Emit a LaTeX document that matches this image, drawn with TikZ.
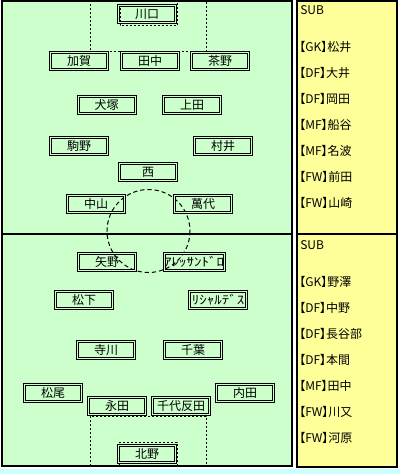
\documentclass[tikz,border=0pt]{standalone}
\usepackage{graphicx}
\usepackage{fontspec}
\setmainfont{Noto Sans CJK JP}
\newfontfamily\benchfont[RawFeature=+palt]{Noto Sans CJK JP}
\definecolor{pitchGreen}{RGB}{204,255,204}
\definecolor{benchYellow}{RGB}{255,255,153}
\definecolor{marginCyan}{RGB}{204,255,255}
\newcommand{\wideKana}[1]{\scalebox{1.25}[1]{#1}}

\begin{document}
\begin{tikzpicture}[x=0.75pt,y=-0.75pt,font=\fontsize{9pt}{10pt}\selectfont,
    player/.style={draw=black,double=pitchGreen,double distance=0.75pt,
                   line width=0.75pt,minimum width=42.75pt,minimum height=12.75pt,
                   inner sep=0pt},
    benchline/.style={anchor=west,inner sep=0pt,font=\fontsize{9pt}{10pt}\benchfont},
    frame/.style={draw=black,line width=1.5pt},
    dotline/.style={line width=0.75pt,dash pattern=on 1.5pt off 1.5pt},
    circline/.style={line width=0.75pt,dash pattern=on 3.2pt off 2.2pt}]

    \useasboundingbox (0,0) rectangle (400,474);
    \fill[white] (0,0) rectangle (400,474);
    \fill[marginCyan] (0,469) rectangle (400,474);

    % pitch
    \filldraw[frame,fill=pitchGreen] (2,1) rectangle (292,466);
    \draw[frame] (2,234) -- (292,234);
    \draw[dotline] (90,0) -- (90,52) -- (206,52) -- (206,0);
    \draw[dotline] (120,0) -- (120,26) -- (177,26) -- (177,0);
    \draw[dotline] (90,466) -- (90,416) -- (206,416) -- (206,466);
    \draw[dotline] (119,466) -- (119,442) -- (177,442) -- (177,466);
    \coordinate (kickoff) at (148.5,231);
    \draw[circline] (kickoff) circle[radius=41.5];

    % bench
    \filldraw[frame,fill=benchYellow] (297,1) rectangle (397,467);
    \draw[frame] (297,234) -- (397,234);

    % upper team
    \node[player] (kawaguchi) at (147,14)  {川口};
    \node[player] (kaga)      at (79,61)   {加賀};
    \node[player] (tanaka)    at (150,61)  {田中};
    \node[player] (chano)     at (220,61)  {茶野};
    \node[player] (inuzuka)   at (106.5,105) {犬塚};
    \node[player] (ueda)      at (192,105) {上田};
    \node[player] (komano)    at (79,146)  {駒野};
    \node[player] (murai)     at (223,146) {村井};
    \node[player] (nishi)     at (148,172) {西};
    \node[player] (nakayama)  at (96,204)  {中山};
    \node[player] (bandai)    at (203,204) {萬代};

    % lower team
    \node[player] (yano)      at (107,262) {矢野};
    \node[player] (alessandro) at (194,262) {\wideKana{ｱﾚｯｻﾝﾄﾞﾛ}};
    \node[player] (matsushita) at (84,300) {松下};
    \node[player] (richardes)  at (218,300) {\wideKana{ﾘｼｬﾙﾃﾞｽ}};
    \node[player] (terakawa)  at (106,350) {寺川};
    \node[player] (chiba)     at (193,350) {千葉};
    \node[player] (matsuo)    at (53,393)  {松尾};
    \node[player] (uchida)    at (245,393) {内田};
    \node[player] (nagata)    at (117,406) {永田};
    \node[player] (chiyotanda) at (181,406) {千代反田};
    \node[player] (kitano)    at (147,454) {北野};

    % substitutes
    \node[benchline] (subA) at (300,10) {SUB};
    \foreach \txt [count=\i] in {【GK】松井,【DF】大井,【DF】岡田,【MF】船谷,
                                 【MF】名波,【FW】前田,【FW】山崎}
      \node[benchline] (subA\i) at (299,{21+26*\i}) {\txt};
    \node[benchline] (subB) at (300,245) {SUB};
    \foreach \txt [count=\i] in {【GK】野澤,【DF】中野,【DF】長谷部,【DF】本間,
                                 【MF】田中,【FW】川又,【FW】河原}
      \node[benchline] (subB\i) at (299,{256+26*\i}) {\txt};
  \end{tikzpicture}
\end{document}
